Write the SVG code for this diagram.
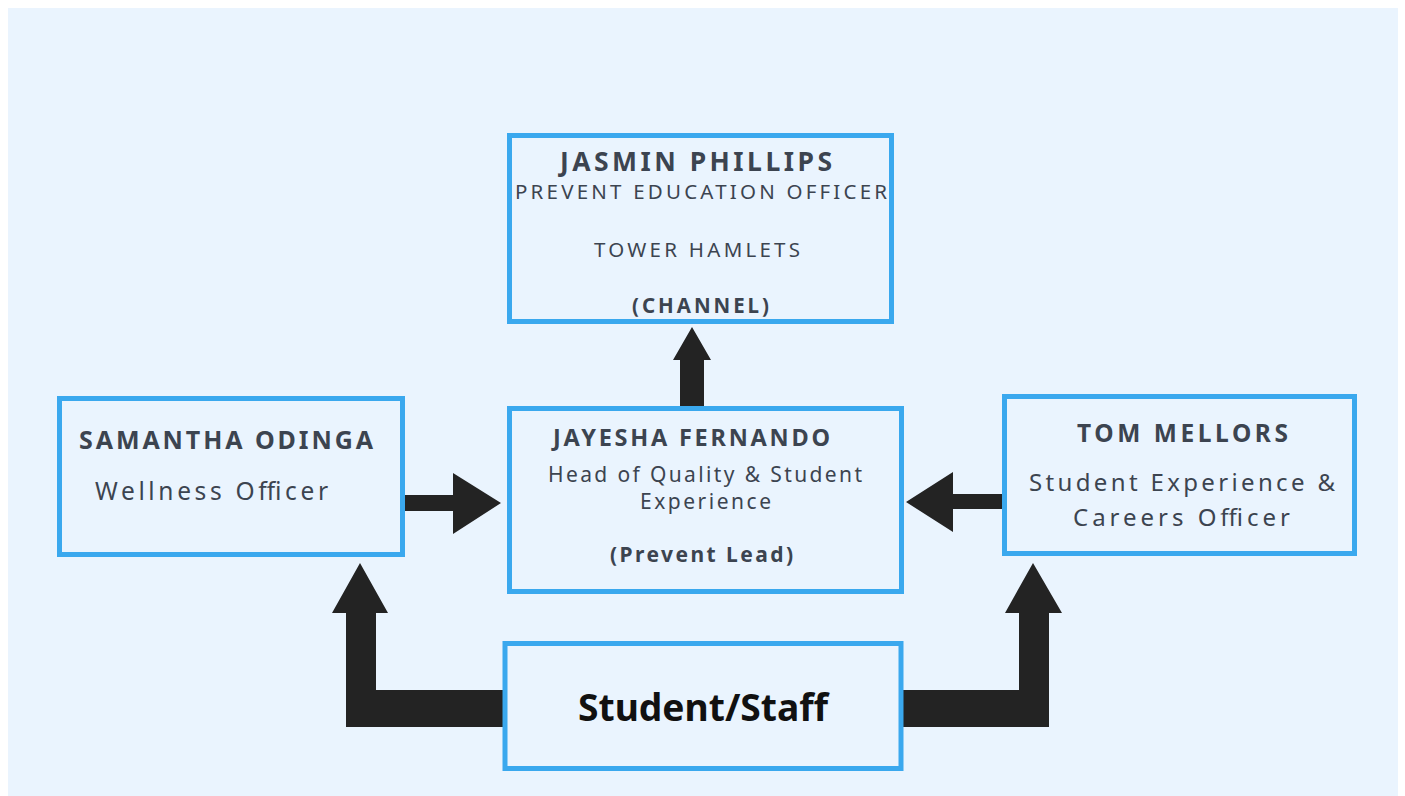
<svg xmlns="http://www.w3.org/2000/svg" width="1405" height="796" viewBox="0 0 1405 796">
  <style>
    .box { fill: #EAF4FE; stroke: #3AA8EE; stroke-width: 5; }
    .t { font-family: "Noto Sans", "Open Sans", sans-serif; fill: #3C4450; }
    .b { font-weight: bold; }
    .arrow { fill: #232323; }
  </style>
  <rect x="0" y="0" width="1405" height="796" fill="#FFFFFF"/>
  <rect x="8" y="8" width="1390" height="788" fill="#EAF4FE"/>

  <g id="connectors">
    <!-- Jayesha -> Jasmin -->
    <polygon class="arrow" points="680,407 680,360 673,360 692,327 711,360 704,360 704,407"/>
    <!-- Samantha -> Jayesha -->
    <polygon class="arrow" points="404,495 453,495 453,473 501,503 453,534 453,511 404,511"/>
    <!-- Tom -> Jayesha -->
    <polygon class="arrow" points="1003,494 953,494 953,472 906,502 953,532 953,509 1003,509"/>
    <!-- Student/Staff -> Samantha -->
    <polygon class="arrow" points="503,690 376,690 376,613 388,613 360,563 332,613 346,613 346,727 503,727"/>
    <!-- Student/Staff -> Tom -->
    <polygon class="arrow" points="903,690 1019,690 1019,613 1005,613 1033,563 1062,613 1049,613 1049,727 903,727"/>
  </g>

  <g id="node-jasmin">
    <rect class="box" x="509.5" y="135.5" width="382" height="186"/>
    <text class="t b" x="560" y="171" font-size="26.5" textLength="272" lengthAdjust="spacing">JASMIN PHILLIPS</text>
    <text class="t" x="515" y="199" font-size="20.5" textLength="372" lengthAdjust="spacing">PREVENT EDUCATION OFFICER</text>
    <text class="t" x="594" y="257" font-size="20.5" textLength="206" lengthAdjust="spacing">TOWER HAMLETS</text>
    <text class="t b" x="632" y="313" font-size="20.5" textLength="137" lengthAdjust="spacing">(CHANNEL)</text>
  </g>

  <g id="node-samantha">
    <rect class="box" x="59.5" y="398.5" width="343" height="156"/>
    <text class="t b" x="79" y="449" font-size="25" textLength="294" lengthAdjust="spacing">SAMANTHA ODINGA</text>
    <text class="t" x="95" y="500" font-size="24.5" textLength="233" lengthAdjust="spacing">Wellness Officer</text>
  </g>

  <g id="node-jayesha">
    <rect class="box" x="509.5" y="408.5" width="392" height="183"/>
    <text class="t b" x="553" y="446" font-size="23.5" textLength="277" lengthAdjust="spacing">JAYESHA FERNANDO</text>
    <text class="t" x="548" y="482" font-size="21" textLength="314" lengthAdjust="spacing">Head of Quality &amp; Student</text>
    <text class="t" x="640" y="509" font-size="21" textLength="131" lengthAdjust="spacing">Experience</text>
    <text class="t b" x="610" y="562" font-size="21" textLength="183" lengthAdjust="spacing">(Prevent Lead)</text>
  </g>

  <g id="node-tom">
    <rect class="box" x="1004.5" y="396.5" width="350" height="157"/>
    <text class="t b" x="1077" y="442" font-size="24.5" textLength="211" lengthAdjust="spacing">TOM MELLORS</text>
    <text class="t" x="1029" y="491" font-size="24" textLength="306" lengthAdjust="spacing">Student Experience &amp;</text>
    <text class="t" x="1073" y="526" font-size="24" textLength="217" lengthAdjust="spacing">Careers Officer</text>
  </g>

  <g id="node-student-staff">
    <rect class="box" x="505" y="643.5" width="396" height="125" stroke-width="6"/>
    <text x="578" y="721" font-family="Noto Sans, Open Sans, sans-serif" font-weight="bold" font-size="37" fill="#111111" textLength="250" lengthAdjust="spacingAndGlyphs">Student/Staff</text>
  </g>
</svg>
